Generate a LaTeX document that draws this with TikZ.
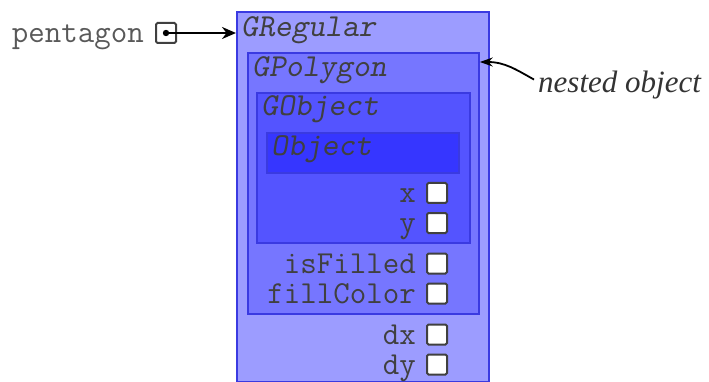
\documentclass[tikz,border=0pt]{standalone}
\usepackage{fontspec}
\newfontfamily\notefont{Liberation Serif}
\usetikzlibrary{arrows.meta,calc,positioning}
\definecolor{regfill}{RGB}{156,156,255}
\definecolor{polyfill}{RGB}{118,118,255}
\definecolor{gobjfill}{RGB}{84,84,255}
\definecolor{objfill}{RGB}{54,54,255}
\definecolor{boxline}{RGB}{58,58,225}
\tikzset{objbox/.style={draw=boxline,line width=1.8pt,anchor=north west,inner sep=0pt},
  clsname/.style={anchor=base west,inner sep=0pt,text=black!75,
    font=\fontsize{32}{32}\selectfont\ttfamily\slshape},
  fieldbox/.style={draw=black!75,fill=white,line width=2pt,minimum size=20pt,
    inner sep=0pt,rounded corners=1.5pt},
  fieldname/.style={anchor=base east,inner sep=0pt,text=black!75,
    font=\fontsize{32}{32}\selectfont\ttfamily},
  arr/.style={-{Stealth[length=14pt,width=12pt]},line width=2.4pt}}

\begin{document}
\begin{tikzpicture}[x=1pt,y=-1pt]
\useasboundingbox (0,0) rectangle (709,382);
% nested object boxes, outermost first
\node[objbox,fill=regfill,minimum width=252pt,minimum height=370pt] (reg) at (236,11) {};
\node[objbox,fill=polyfill,minimum width=231pt,minimum height=261pt] (poly) at (247,52) {};
\node[objbox,fill=gobjfill,minimum width=213pt,minimum height=150pt] (gobj) at (256,92) {};
\node[objbox,fill=objfill,minimum width=192pt,minimum height=40pt] (obj) at (266,132) {};
\node[clsname] (regname) at ([shift={(5pt,-26pt)}]reg.north west) {GRegular};
\node[clsname] (polyname) at ([shift={(5pt,-25pt)}]poly.north west) {GPolygon};
\node[clsname] (gobjname) at ([shift={(5pt,-24pt)}]gobj.north west) {GObject};
\node[clsname] (objname) at ([shift={(5pt,-24pt)}]obj.north west) {Object};
% instance variables
\foreach \f/\yy in {x/193,y/223,isFilled/263.5,fillColor/293.5,dx/334.5,dy/364.5}{
  \node[fieldbox] (box-\f) at (437,\yy) {};
  \node[fieldname] (name-\f) at ([xshift=-10pt,yshift=1pt]box-\f.south west) {\f};
}
% the variable pentagon
\node[fieldbox] (pbox) at (166,33) {};
\fill (pbox.center) circle (3.2pt);
\node[fieldname,text=black!65] (pname) at ([xshift=-11pt,yshift=1pt]pbox.south west) {pentagon};
\draw[arr] (pbox.center) -- (reg.west |- pbox.center);
% note
\node[anchor=base west,inner sep=1pt,text=black!80,
  font=\notefont\itshape\fontsize{31}{31}\selectfont] (nested) at (537,93) {nested object};
\coordinate (polytip) at ([yshift=-10pt]poly.north east);
\draw[-{Stealth[length=13pt,width=9pt]},line width=1.8pt]
  ([shift={(-3pt,6pt)}]nested.west) .. controls +(-18,-10) and +(25,0) .. (polytip);
\end{tikzpicture}
\end{document}
